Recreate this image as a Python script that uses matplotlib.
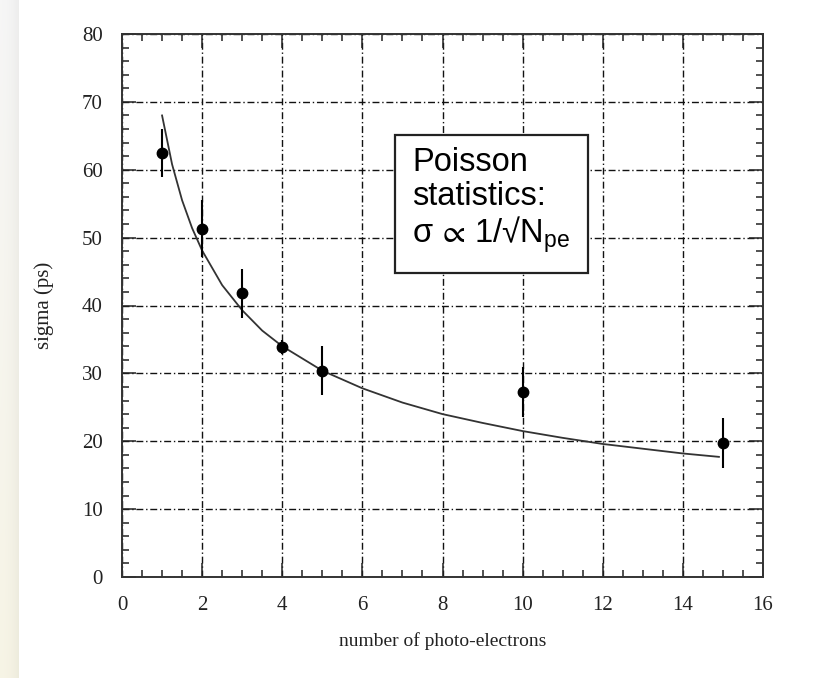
import numpy as np
import matplotlib
matplotlib.use("Agg")
import matplotlib.pyplot as plt
from matplotlib.ticker import MultipleLocator

# ---- data ----
n_pe = [1, 2, 3, 4, 5, 10, 15]
sigma_ps = [62.5, 51.3, 41.8, 33.9, 30.4, 27.2, 19.7]
sigma_err = [3.5, 4.2, 3.6, 1.0, 3.6, 3.7, 3.7]

fit_x = [1, 1.25, 1.5, 1.75, 2, 2.5, 3, 3.5, 4, 5, 6, 7, 8, 9, 10, 11, 12, 13, 14, 14.9]
fit_y = [68, 60.8, 55.5, 51.4, 48.1, 43.0, 39.3, 36.3, 34.0, 30.4, 27.8, 25.7, 24.0,
         22.7, 21.5, 20.5, 19.6, 18.9, 18.2, 17.7]

x_ticks = [0, 2, 4, 6, 8, 10, 12, 14, 16]
y_ticks = [0, 10, 20, 30, 40, 50, 60, 70, 80]

plt.rcParams['mathtext.fontset'] = 'custom'
plt.rcParams['mathtext.rm'] = 'Liberation Sans'
plt.rcParams['mathtext.it'] = 'Liberation Sans'
plt.rcParams['mathtext.fallback'] = 'stixsans'

W, H = 817, 678
fig = plt.figure(figsize=(W / 100, H / 100), dpi=100)

# left decorative gradient strip
sax = fig.add_axes([0, 0, 19 / W, 1])
rows, cols = 200, 20
t = np.linspace(0, 1, rows)[:, None]
s = np.linspace(0, 1, cols)[None, :]
top = np.array([0.965, 0.965, 0.965])
bot = np.array([0.968, 0.958, 0.900])
img = top[None, None, :] * (1 - t[..., None]) + bot[None, None, :] * t[..., None]
img = img - 0.035 * (s[..., None] ** 2)
sax.imshow(np.clip(img, 0, 1), aspect='auto', extent=[0, 1, 0, 1])
sax.axis('off')

ax = fig.add_axes([122 / W, 1 - 577 / H, (763 - 122) / W, (577 - 34) / H])

ax.set_xlim(0, 16)
ax.set_ylim(0, 80)
ax.set_xticks(x_ticks)
ax.set_yticks(y_ticks)
ax.xaxis.set_minor_locator(MultipleLocator(0.5))
ax.yaxis.set_minor_locator(MultipleLocator(2))

ax.grid(True, which='major', color='#111111', linestyle=(0, (5, 2, 1, 2)), linewidth=1.0)
ax.set_axisbelow(True)

ax.tick_params(which='both', direction='in', top=True, right=True, width=1.1, color='#222222')
ax.tick_params(which='major', length=10, pad=14, labelsize=15)
ax.tick_params(which='minor', length=5)
for lab in ax.get_xticklabels() + ax.get_yticklabels():
    lab.set_fontfamily('Liberation Serif')
    lab.set_color('#222222')

for sp in ax.spines.values():
    sp.set_linewidth(1.4)
    sp.set_color('#333333')

ax.plot(fit_x, fit_y, color='#333333', linewidth=1.3, zorder=3)
ax.errorbar(n_pe, sigma_ps, yerr=sigma_err, fmt='o', color='black', markersize=7.5,
            elinewidth=1.5, capsize=0, zorder=4)

ax.set_xlabel('number of photo-electrons', fontfamily='Liberation Serif', fontsize=14,
              color='#222222', labelpad=12)
ax.set_ylabel('sigma (ps)', fontfamily='Liberation Serif', fontsize=15,
              color='#222222', labelpad=20)

ax.text(7.25, 63.3, 'Poisson\nstatistics:\nσ$\\,\\propto\\,$1/√N$_{\\mathrm{pe}}$',
        fontfamily=['Liberation Sans', 'DejaVu Sans'], fontsize=23.5, va='top', ha='left',
        linespacing=1.1, color='black', zorder=5,
        bbox=dict(boxstyle='square,pad=0.55', fc='white', ec='#222222', lw=1.6))

fig.savefig('out.png', dpi=100)
